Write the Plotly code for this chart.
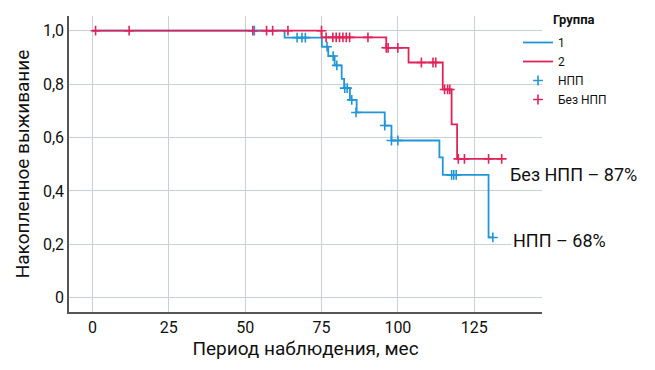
import plotly.graph_objects as go

# KM step curves (time in months, cumulative survival)
g1_time = [0, 62.9, 75.1, 77.2, 79.3, 81.6, 82.4, 84.3, 86.5, 95.7, 97.9, 113.6, 114.7, 129.7, 131.1]
g1_surv = [1.0, 0.974, 0.94, 0.905, 0.87, 0.82, 0.785, 0.741, 0.694, 0.645, 0.589, 0.526, 0.46, 0.226, 0.226]

g2_time = [0, 75.0, 96.2, 103.5, 114.7, 117.6, 119.4, 134.0]
g2_surv = [1.0, 0.975, 0.936, 0.881, 0.78, 0.649, 0.52, 0.52]

# Censored observations
c1_time = [53, 67, 68.6, 69.7, 76.8, 78.8, 80.0, 82.6, 83.4, 84.9, 86.3, 95.7, 97.9, 100, 117.6, 118.3, 119.1, 131.1]
c1_surv = [1.0, 0.974, 0.974, 0.974, 0.94, 0.905, 0.87, 0.785, 0.785, 0.741, 0.694, 0.645, 0.589, 0.589, 0.46, 0.46, 0.46, 0.226]

c2_time = [1, 12, 52.5, 57, 59, 64, 75, 76.5, 78.7, 79.8, 80.9, 82, 83.1, 84.2, 90.2,
           96.2, 96.8, 100, 107.7, 111.5, 112.4, 115.3, 116.3, 117, 119.8, 121.8, 129.7, 134]
c2_surv = [1.0, 1.0, 1.0, 1.0, 1.0, 1.0, 1.0, 0.975, 0.975, 0.975, 0.975, 0.975, 0.975, 0.975, 0.975,
           0.936, 0.936, 0.936, 0.881, 0.881, 0.881, 0.78, 0.78, 0.78, 0.52, 0.52, 0.52, 0.52]

x_ticks = [0, 25, 50, 75, 100, 125]
y_ticks = [0, 0.2, 0.4, 0.6, 0.8, 1.0]
y_ticktext = ["0", "0,2", "0,4", "0,6", "0,8", "1,0"]

BLUE = "#2196d6"
RED = "#e0245a"
FONT = "Roboto, sans-serif"

L, R, T, B = 69, 113, 16, 58
PW, PH = 655 - L - R, 370 - T - B


def px(xp):
    return (xp - L) / PW


def py(yp):
    return 1 - (yp - T) / PH


fig = go.Figure()
fig.add_trace(go.Scatter(x=g1_time, y=g1_surv, mode="lines", line=dict(color=BLUE, width=1.8, shape="hv"),
                         name="1"))
fig.add_trace(go.Scatter(x=g2_time, y=g2_surv, mode="lines", line=dict(color=RED, width=1.8, shape="hv"),
                         name="2"))
fig.add_trace(go.Scatter(x=c1_time, y=c1_surv, mode="markers", name="НПП",
                         marker=dict(symbol="cross-thin", size=7, color=BLUE, line=dict(color=BLUE, width=1.6))))
fig.add_trace(go.Scatter(x=c2_time, y=c2_surv, mode="markers", name="Без НПП",
                         marker=dict(symbol="cross-thin", size=7, color=RED, line=dict(color=RED, width=1.6))))

fig.update_layout(
    width=655, height=370,
    margin=dict(l=L, r=R, t=T, b=B),
    plot_bgcolor="white", paper_bgcolor="white",
    font=dict(family=FONT, size=16, color="#111"),
    showlegend=True,
    legend=dict(x=px(518), y=py(28), xanchor="left", yanchor="top", bgcolor="rgba(0,0,0,0)",
                font=dict(size=12), itemwidth=30, tracegroupgap=0),
    xaxis=dict(range=[-7.7, 147.2], tickvals=x_ticks, showgrid=True, gridcolor="#c9d0d6", gridwidth=1.2,
               showline=True, linecolor="#555", linewidth=1.5, zeroline=False, ticks="", automargin=False,
               title=dict(text="Период наблюдения, мес", font=dict(size=19), standoff=4)),
    yaxis=dict(range=[-0.053, 1.055], tickvals=y_ticks, ticktext=y_ticktext, showgrid=True,
               gridcolor="#c9d0d6", gridwidth=1.2, showline=True, linecolor="#555", linewidth=1.5,
               zeroline=False, ticks="", automargin=False,
               title=dict(text="Накопленное выживание", font=dict(size=19), standoff=8)),
    annotations=[
        dict(text="<b>Группа</b>", x=px(551), y=py(20), xref="paper", yref="paper", showarrow=False,
             font=dict(size=13), xanchor="left", yanchor="middle"),
        dict(text="Без НПП – 87%", x=px(508), y=py(174), xref="paper", yref="paper", showarrow=False,
             font=dict(size=18), xanchor="left", yanchor="middle", bgcolor="white"),
        dict(text="НПП – 68%", x=px(511), y=py(240), xref="paper", yref="paper", showarrow=False,
             font=dict(size=18), xanchor="left", yanchor="middle", bgcolor="white"),
    ],
)

fig.write_html("out.html", config={"displayModeBar": False},
               post_script="document.body.style.margin='0';")
